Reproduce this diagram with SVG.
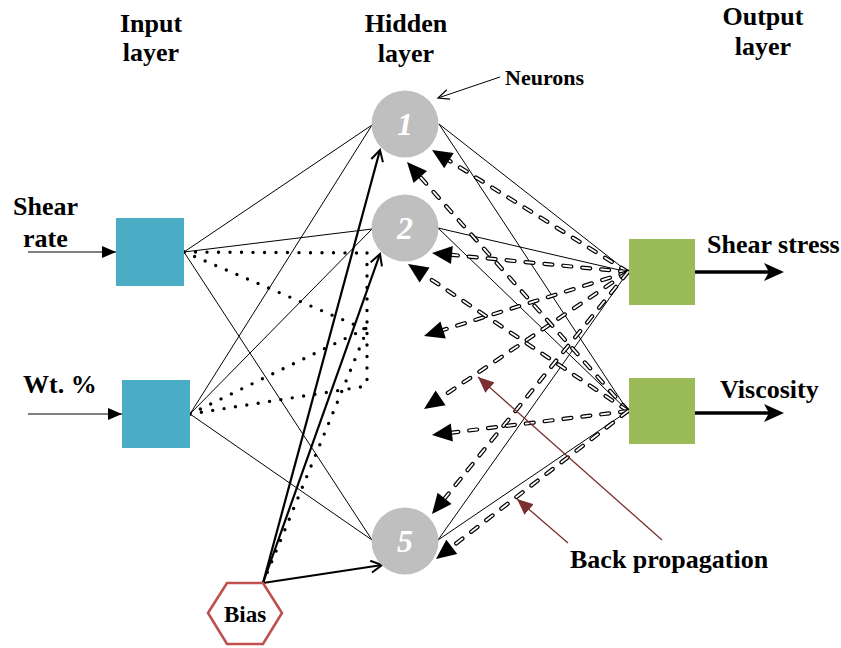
<svg xmlns="http://www.w3.org/2000/svg" width="841" height="648" viewBox="0 0 841 648">
<style>
.lbl{font-family:"Liberation Serif","Times New Roman",serif;font-weight:bold;font-size:26px;fill:#000}
.num{font-family:"Liberation Serif","Times New Roman",serif;font-style:italic;font-weight:bold;font-size:32px;fill:#fff;text-anchor:middle}
.thin{stroke:#000;stroke-width:1;fill:none}
.thick{stroke:#000;stroke-width:2.2;fill:none}
.dot{stroke:#000;stroke-width:3.4;stroke-dasharray:0 11.5;stroke-linecap:round;fill:none}
.bpo{stroke:#000;stroke-width:4.2;stroke-dasharray:8 11;stroke-linecap:round;fill:none}
.bpi{stroke:#fff;stroke-width:1.8;stroke-dasharray:8 11;stroke-linecap:round;fill:none}
.head{fill:#000}
.brown{stroke:#7a3030;stroke-width:1.3;fill:none}
.inbox{fill:#4bacc6}
.outbox{fill:#9bbb59}
.neuron{fill:#bfbfbf}
</style>
<defs>
<marker id="inArr" markerUnits="userSpaceOnUse" markerWidth="14" markerHeight="12" viewBox="0 0 14 12" refX="14" refY="6" orient="auto"><path d="M0,0 L14,6 L0,12 z" fill="#000"/></marker>
<marker id="vOpen" markerUnits="userSpaceOnUse" markerWidth="14" markerHeight="14" viewBox="0 0 14 14" refX="12" refY="7" orient="auto"><path d="M1,1 L12,7 L1,13" fill="none" stroke="#000" stroke-width="2"/></marker>
<marker id="vThin" markerUnits="userSpaceOnUse" markerWidth="14" markerHeight="12" viewBox="0 0 14 12" refX="12" refY="6" orient="auto"><path d="M1,1 L12,6 L1,11" fill="none" stroke="#000" stroke-width="1.2"/></marker>
<marker id="bpArr" markerUnits="userSpaceOnUse" markerWidth="16" markerHeight="14" viewBox="0 0 16 14" refX="16" refY="7" orient="auto"><path d="M0,0 L16,7 L0,14 z" fill="#7a3030"/></marker>
</defs>

<g id="titles">
<text class="lbl" x="151" y="32" text-anchor="middle">Input</text>
<text class="lbl" x="151" y="61" text-anchor="middle">layer</text>
<text class="lbl" x="406" y="32" text-anchor="middle">Hidden</text>
<text class="lbl" x="406" y="62" text-anchor="middle">layer</text>
<text class="lbl" x="763" y="25" text-anchor="middle">Output</text>
<text class="lbl" x="763" y="55" text-anchor="middle">layer</text>
<text class="lbl" x="505" y="85" style="font-size:22px">Neurons</text>
<text class="lbl" x="13" y="215">Shear</text>
<text class="lbl" x="23" y="247">rate</text>
<text class="lbl" x="23" y="393">Wt. %</text>
<text class="lbl" x="707" y="253">Shear stress</text>
<text class="lbl" x="720" y="398">Viscosity</text>
<text class="lbl" x="570" y="568">Back propagation</text>
</g>

<g id="connectors">
<line class="thin" x1="28" y1="252" x2="116" y2="252" marker-end="url(#inArr)"/>
<line class="thin" x1="28" y1="414" x2="122" y2="414" marker-end="url(#inArr)"/>
<line class="thin" x1="184" y1="252" x2="372" y2="125"/>
<line class="thin" x1="184" y1="252" x2="372" y2="229"/>
<line class="thin" x1="184" y1="252" x2="372" y2="540"/>
<line class="thin" x1="190" y1="414" x2="372" y2="125"/>
<line class="thin" x1="190" y1="414" x2="372" y2="229"/>
<line class="thin" x1="190" y1="414" x2="372" y2="540"/>
<line class="dot" x1="184" y1="252" x2="367" y2="253"/>
<line class="dot" x1="184" y1="252" x2="367" y2="330"/>
<line class="dot" x1="190" y1="414" x2="367" y2="328"/>
<line class="dot" x1="190" y1="414" x2="367" y2="386"/>
<line class="dot" x1="367" y1="253" x2="367" y2="386"/>
<line class="dot" x1="263" y1="583" x2="367" y2="330"/>
<line class="thick" x1="263" y1="583" x2="380" y2="150" marker-end="url(#vOpen)"/>
<line class="thick" x1="263" y1="583" x2="380" y2="254" marker-end="url(#vOpen)"/>
<line class="thick" x1="263" y1="583" x2="382" y2="565" marker-end="url(#vOpen)"/>
<line class="thin" x1="439" y1="124" x2="628" y2="272"/>
<line class="thin" x1="439" y1="124" x2="628" y2="411"/>
<line class="thin" x1="438" y1="228" x2="628" y2="272"/>
<line class="thin" x1="438" y1="228" x2="628" y2="411"/>
<line class="thin" x1="438" y1="540" x2="628" y2="272"/>
<line class="thin" x1="438" y1="540" x2="628" y2="411"/>
<g id="back-propagation">
<line class="bpo" x1="628" y1="272" x2="449" y2="160.6"/><line class="bpi" x1="628" y1="272" x2="449" y2="160.6"/>
<line class="bpo" x1="628" y1="272" x2="451.9" y2="254.9"/><line class="bpi" x1="628" y1="272" x2="451.9" y2="254.9"/>
<line class="bpo" x1="628" y1="272" x2="443.1" y2="330"/><line class="bpi" x1="628" y1="272" x2="443.1" y2="330"/>
<line class="bpo" x1="628" y1="272" x2="440.6" y2="397.8"/><line class="bpi" x1="628" y1="272" x2="440.6" y2="397.8"/>
<line class="bpo" x1="628" y1="272" x2="444.6" y2="498.5"/><line class="bpi" x1="628" y1="272" x2="444.6" y2="498.5"/>
<line class="bpo" x1="628" y1="411" x2="420.3" y2="177"/><line class="bpi" x1="628" y1="411" x2="420.3" y2="177"/>
<line class="bpo" x1="628" y1="411" x2="424.6" y2="275.1"/><line class="bpi" x1="628" y1="411" x2="424.6" y2="275.1"/>
<line class="bpo" x1="628" y1="411" x2="451.9" y2="432.6"/><line class="bpi" x1="628" y1="411" x2="451.9" y2="432.6"/>
<line class="bpo" x1="628" y1="411" x2="451.8" y2="546.8"/><line class="bpi" x1="628" y1="411" x2="451.8" y2="546.8"/>
<polygon class="head" points="432,150 453.7,152.9 444.2,168.2"/>
<polygon class="head" points="432,253 452.8,245.9 451,263.9"/>
<polygon class="head" points="424,336 440.4,321.4 445.8,338.6"/>
<polygon class="head" points="424,409 435.6,390.4 445.6,405.3"/>
<polygon class="head" points="432,514 437.6,492.8 451.6,504.1"/>
<polygon class="head" points="407,162 427,171 413.6,183"/>
<polygon class="head" points="408,264 429.6,267.6 419.6,282.6"/>
<polygon class="head" points="432,435 450.8,423.6 452.9,441.5"/>
<polygon class="head" points="436,559 446.3,539.7 457.3,553.9"/>
</g>
<line x1="695" y1="272" x2="770" y2="272" stroke="#000" stroke-width="3.5"/>
<path d="M784,272 L764,263 L769,272 L764,281 Z" fill="#000"/>
<line x1="695" y1="413" x2="770" y2="413" stroke="#000" stroke-width="3.5"/>
<path d="M784,413 L764,404 L769,413 L764,422 Z" fill="#000"/>
<line class="thin" x1="500" y1="77" x2="438" y2="98" stroke-width="1.2" marker-end="url(#vThin)"/>
<line class="brown" x1="662" y1="540" x2="478" y2="377" marker-end="url(#bpArr)"/>
<line class="brown" x1="568" y1="543" x2="517" y2="499" marker-end="url(#bpArr)"/>
</g>

<g id="input-shear-rate"><rect class="inbox" x="116" y="218" width="68" height="68"/></g>
<g id="input-wt"><rect class="inbox" x="122" y="380" width="68" height="68"/></g>
<g id="hidden-1"><circle class="neuron" cx="405" cy="124" r="33.5"/><text class="num" x="405" y="135">1</text></g>
<g id="hidden-2"><circle class="neuron" cx="405" cy="228" r="33.5"/><text class="num" x="405" y="239">2</text></g>
<g id="hidden-5"><circle class="neuron" cx="405" cy="541" r="33.5"/><text class="num" x="405" y="552">5</text></g>
<g id="output-shear-stress"><rect class="outbox" x="629" y="239" width="66" height="66"/></g>
<g id="output-viscosity"><rect class="outbox" x="629" y="378" width="66" height="66"/></g>
<g id="bias">
<polygon points="208,613 227,583 263,583 282,613 263,644 227,644" fill="#fff" stroke="#c0504d" stroke-width="2.6"/>
<text class="lbl" x="245" y="622" text-anchor="middle" style="font-size:23px">Bias</text>
</g>
</svg>
